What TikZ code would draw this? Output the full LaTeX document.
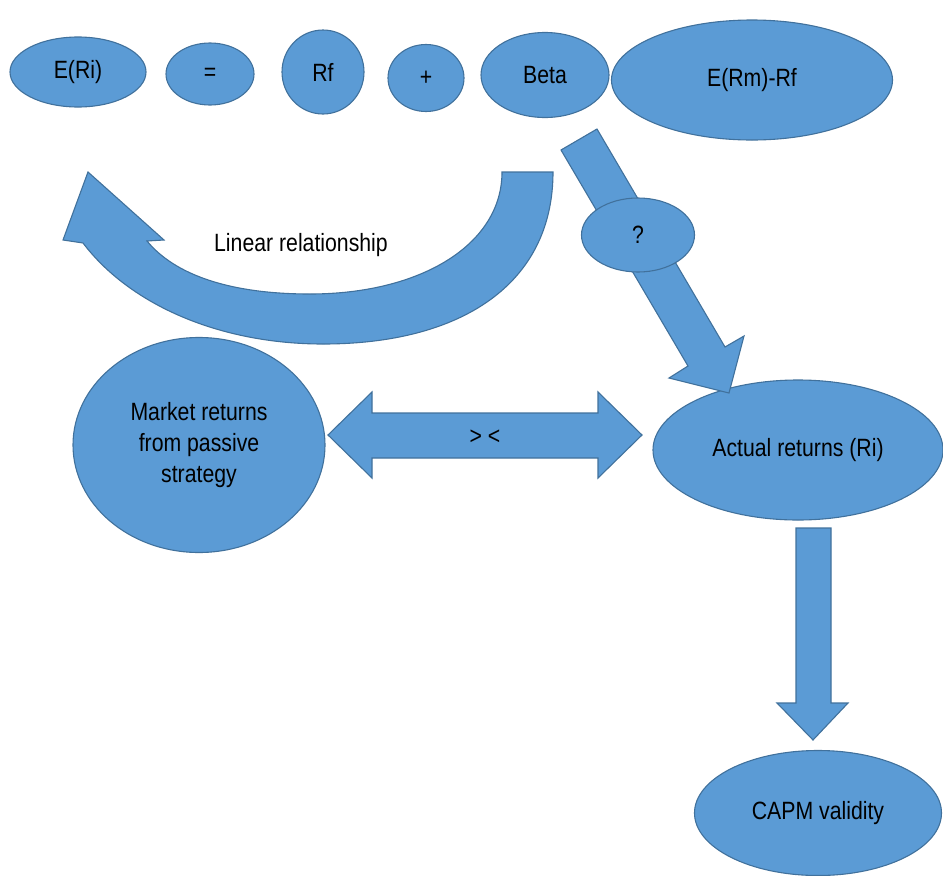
\documentclass[tikz,border=0pt]{standalone}
\usepackage{fontspec}
\setmainfont[FakeStretch=0.85]{Liberation Sans}
\usetikzlibrary{shapes.geometric}
\definecolor{fillblue}{HTML}{5B9BD5}
\definecolor{lineblue}{HTML}{41719C}
\begin{document}
\begin{tikzpicture}[x=1pt,y=-1pt,
  blob/.style={ellipse, draw=lineblue, fill=fillblue, line width=1.1pt, inner sep=0pt, align=center,
    font=\fontsize{25}{31}\selectfont},
  blk/.style={draw=lineblue, fill=fillblue, line width=1.1pt, line join=miter},
  lbl/.style={font=\fontsize{25}{31}\selectfont, inner sep=0pt}]
\useasboundingbox (0,0) rectangle (943,876);

% top equation
\node[blob, minimum width=136pt, minimum height=70pt] (eri) at (78,72) {E(Ri)};
\node[blob, minimum width=88pt, minimum height=62pt] (eq) at (210,74) {=};
\node[blob, minimum width=82pt, minimum height=84pt] (rf) at (323,72) {Rf};
\node[blob, minimum width=76pt, minimum height=67pt] (plus) at (426,78) {+};
\node[blob, minimum width=128pt, minimum height=85pt] (beta) at (545,75) {Beta};
\node[blob, minimum width=281pt, minimum height=120pt] (erm) at (752,80) {E(Rm)-Rf};

% curved arrow
\draw[blk] (553,172) -- (502,172)
  .. controls (502,245) and (420,294) .. (310,294)
  .. controls (230,294) and (175,275) .. (147,241)
  -- (164,240) -- (88,172) -- (63,240) -- (83,243)
  .. controls (130,305) and (220,344) .. (323,344)
  .. controls (460,344) and (553,285) .. (553,172) -- cycle;
\node[lbl] (lin) at (301,245) {Linear relationship};

% other nodes
\node[blob, minimum width=252pt, minimum height=215pt] (mkt) at (199,445) {Market returns\\from passive\\strategy};
\node[blob, minimum width=290pt, minimum height=140pt] (act) at (798,450) {Actual returns (Ri)};
\node[blob, minimum width=247pt, minimum height=125pt] (capm) at (818,813) {CAPM validity};

% diagonal arrow
\draw[blk] (561,150) -- (597,129) -- (725,347) -- (744,336) -- (729,393) -- (669,378) -- (688,366) -- cycle;
\node[blob, minimum width=113pt, minimum height=74pt] (q) at (638,235) {?};

% double arrow
\draw[blk] (328,435) -- (372,392) -- (372,413) -- (598,413) -- (598,392) -- (642,435)
  -- (598,478) -- (598,458) -- (372,458) -- (372,478) -- cycle;
\node[lbl] (gl) at (485,437) {> <};

% down arrow
\draw[blk] (796,528) -- (831,528) -- (831,703) -- (848,703) -- (813,740) -- (777,703) -- (796,703) -- cycle;
\end{tikzpicture}
\end{document}
